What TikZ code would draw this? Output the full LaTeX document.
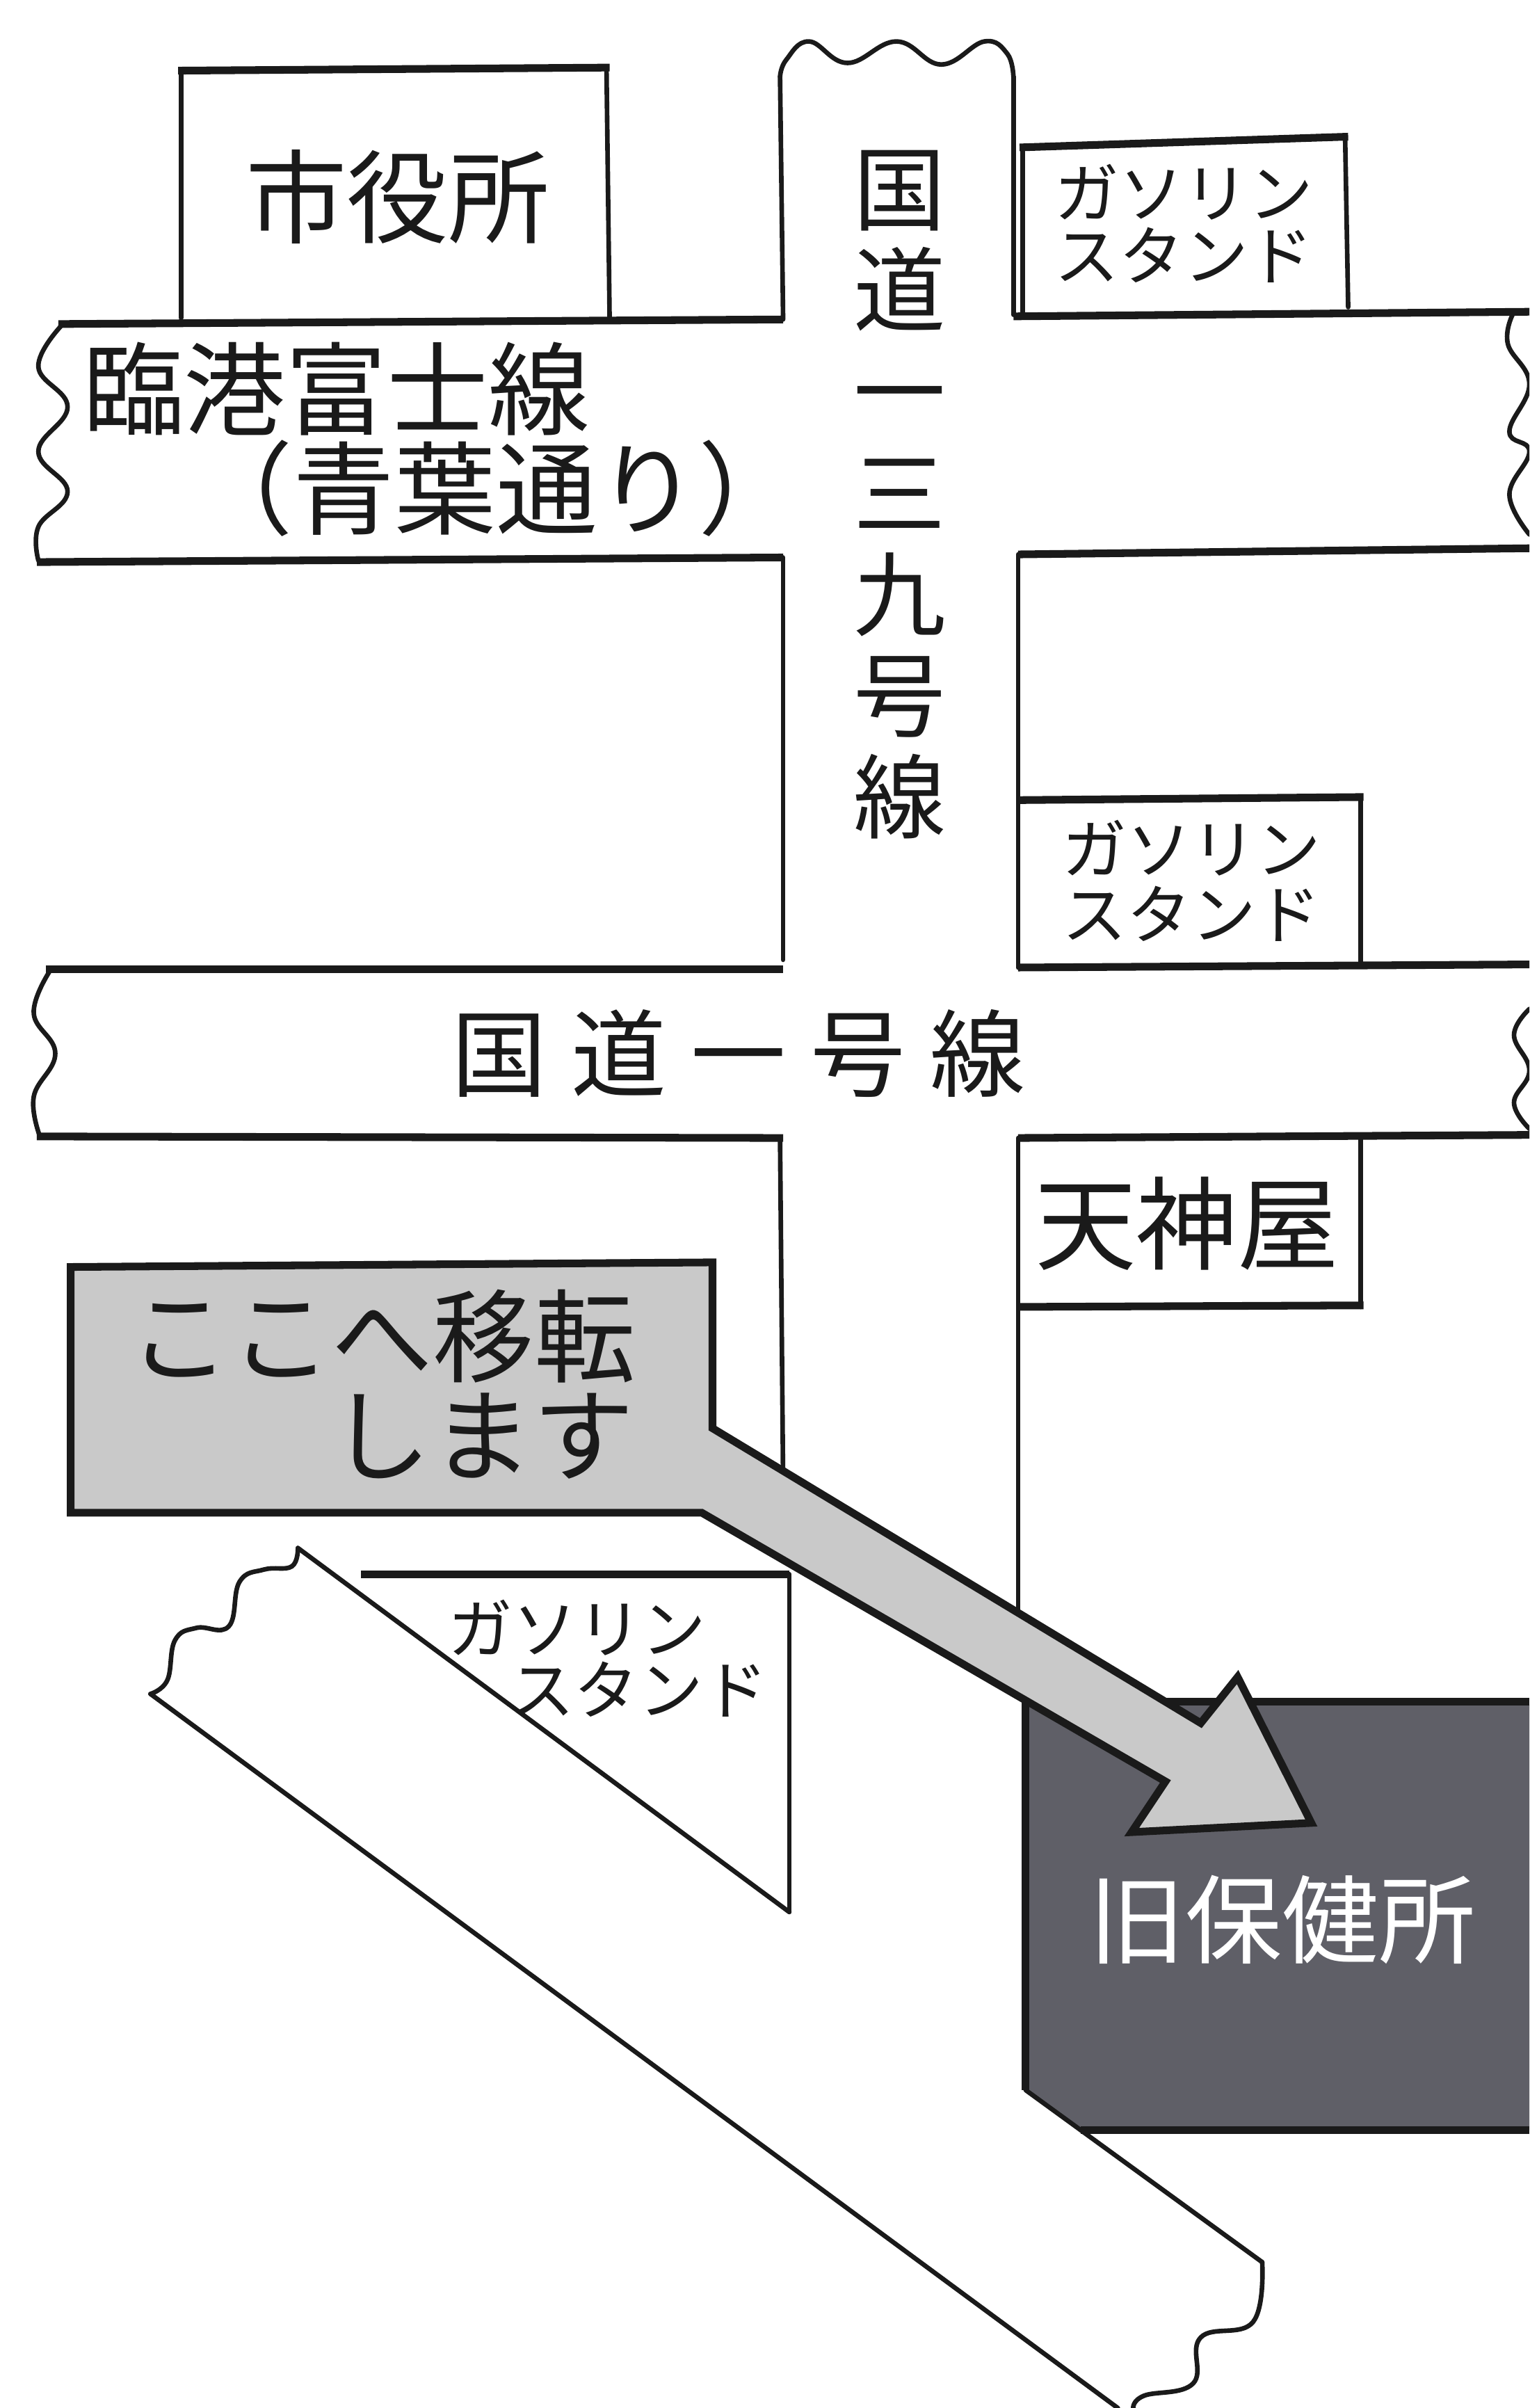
\documentclass[tikz,border=0pt]{standalone}
\usepackage{fontspec}
\setmainfont{Noto Sans CJK JP}
\definecolor{greybox}{HTML}{C9C9C9}
\definecolor{darkbox}{HTML}{5F5F67}
\definecolor{ink}{HTML}{1A1A1A}
\newcommand{\fs}[1]{\fontsize{#1pt}{#1pt}\selectfont}
\tikzset{
  thinline/.style={draw=ink,line width=3pt,line join=round,line cap=round},
  thickline/.style={draw=ink,line width=5pt,line join=miter},
  waveline/.style={draw=ink,line width=3pt,line cap=round},
  label/.style={inner sep=0pt,outer sep=0pt,text=ink,align=center},
  big/.style={label,font=\fs{66}},
  small/.style={label,font=\fs{42}},
}
\begin{document}
\begin{tikzpicture}[x=1pt,y=-1pt]
\useasboundingbox (0,0) rectangle (996,1568);
\fill[white] (0,0) rectangle (996,1568);
\clip (0,0) rectangle (996,1568);
% city hall
\draw[thinline] (118,207) -- (118,46);
\draw[thinline] (395,46) -- (397,207);
\draw[thickline] (116,46) -- (397,44);
% roads, upper left
\draw[thickline] (38,211) -- (510,208);
\draw[thinline] (510,208) -- (508,50);
\draw[waveline] plot[smooth,tension=0.7] coordinates {(508,50) (512,39) (527,27) (552,41) (584,27) (613,42) (641,27) (656,35) (660,50)};
\draw[thinline] (660,50) -- (660,205);
\draw[thickline] (660,206) -- (996,203);
\draw[waveline] plot[smooth,tension=0.7] coordinates {(40,212) (25,239) (44,265) (25,294) (44,320) (25,343) (25,365)};
\draw[thickline] (24,366) -- (510,363);
\draw[thinline] (510,363) -- (510,625);
% upper right
\draw[thinline] (666,205) -- (666,96);
\draw[thickline] (664,96) -- (878,89);
\draw[thinline] (876,89) -- (878,200);
\draw[waveline] plot[smooth,tension=0.7] coordinates {(985,205) (982,224) (996,250) (983,281) (996,294) (983,322) (996,348)};
\draw[thickline] (996,357) -- (663,361);
\draw[thinline] (663,361) -- (663,630);
% second filling station
\draw[thickline] (663,521) -- (888,519);
\draw[thinline] (886,519) -- (886,628);
\draw[thickline] (663,630) -- (996,628);
% national route 1
\draw[thickline] (30,631) -- (510,631);
\draw[waveline] plot[smooth,tension=0.7] coordinates {(32,633) (22,660) (36,686) (22,714) (26,740)};
\draw[waveline] plot[smooth,tension=0.7] coordinates {(996,657) (986,674) (996,697) (986,718) (996,735)};
\draw[thickline] (24,740) -- (510,741);
\draw[thinline] (508,741) -- (510,965);
\draw[thickline] (996,739) -- (663,741);
\draw[thinline] (663,741) -- (663,1060);
% Tenjinya
\draw[thinline] (886,741) -- (886,851);
\draw[thickline] (663,851) -- (888,850);
% third filling station and diagonal road
\draw[thickline] (235,1025) -- (514,1025);
\draw[thinline] (514,1025) -- (514,1245);
\draw[thinline] (194,1008) -- (514,1245);
\draw[thinline] (98,1103) -- (728,1568);
\draw[waveline] plot[smooth,tension=0.7] coordinates {(98,1103) (109,1094) (114,1068) (128,1060) (149,1059) (156,1030) (172,1022) (190,1020) (194,1008)};
\draw[waveline] plot[smooth,tension=0.7] coordinates {(822,1473) (816,1512) (782,1522) (777,1552) (745,1560) (738,1568)};
% old health centre
\fill[darkbox] (668,1110) -- (996,1110) -- (996,1387) -- (704,1387) -- (668,1361) -- cycle;
\draw[thickline] (668,1108) -- (668,1361);
\draw[thickline] (666,1108) -- (996,1108);
\draw[thickline] (704,1387) -- (996,1387);
\draw[thinline] (668,1361) -- (822,1473);
% arrow box
\filldraw[fill=greybox,draw=ink,line width=5pt,line join=miter]
  (46,825) -- (464,822) -- (464,930) -- (782,1122) -- (806,1092) -- (854,1187) -- (737,1193) -- (759,1160) -- (457,985) -- (46,985) -- cycle;
% labels
\node[big] (shiyakusho) at (259,128) {市役所};
\node[big] (rinko) at (219,253) {臨港富士線};
\node[big] (aoba) at (323,318) {（青葉通り）};
\node[label,font={\fontsize{60pt}{66pt}\selectfont}] (route139) at (586,322) {国\\道\\一\\三\\九\\号\\線};
\node[small] (gs1a) at (771,125) {ガソリン};
\node[small] (gs1b) at (771,166) {スタンド};
\node[small] (gs2a) at (776,552) {ガソリン};
\node[small] (gs2b) at (776,595) {スタンド};
\node[label,font=\fs{62}] (route1) at (481,686) {国\hspace{16pt}道\hspace{16pt}一\hspace{16pt}号\hspace{16pt}線};
\node[big] (tenjinya) at (773,797) {天神屋};
\node[big] (koko) at (249,870) {ここへ移転};
\node[big] (masu) at (314,935) {します};
\node[small] (gs3a) at (376,1060) {ガソリン};
\node[small] (gs3b) at (416,1100) {スタンド};
\node[big,text=white,font=\fs{63}] (kyu) at (835,1250) {旧保健所};
\end{tikzpicture}
\end{document}
